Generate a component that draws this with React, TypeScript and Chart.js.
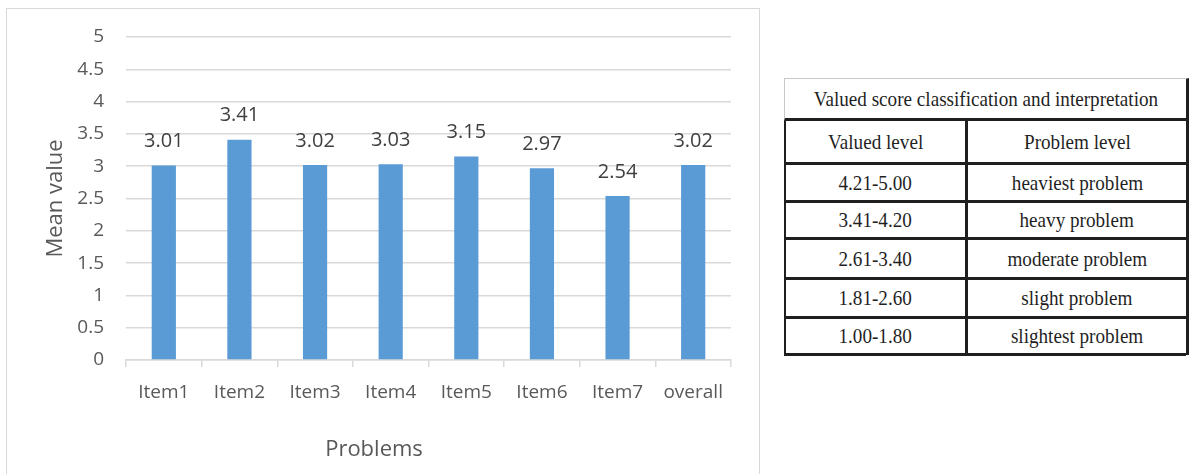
import React, { useEffect, useRef } from "react";
import { Chart, registerables } from "chart.js";

Chart.register(...registerables);

const categories = ["Item1", "Item2", "Item3", "Item4", "Item5", "Item6", "Item7", "overall"];
const meanValues = [3.01, 3.41, 3.02, 3.03, 3.15, 2.97, 2.54, 3.02];
const yMin = 0;
const yMax = 5;
const yStep = 0.5;
const xAxisTitle = "Problems";
const yAxisTitle = "Mean value";

const tableTitle = "Valued score classification and interpretation";
const tableHeaders = ["Valued level", "Problem level"];
const valuedLevels = ["4.21-5.00", "3.41-4.20", "2.61-3.40", "1.81-2.60", "1.00-1.80"];
const problemLevels = ["heaviest problem", "heavy problem", "moderate problem", "slight problem", "slightest problem"];

const FONT = '"Open Sans", "DejaVu Sans", sans-serif';

const dataLabelPlugin = {
  id: "barValueLabels",
  afterDatasetsDraw(chart: any) {
    const ctx = chart.ctx;
    const meta = chart.getDatasetMeta(0);
    ctx.save();
    ctx.font = `20px ${FONT}`;
    ctx.fillStyle = "#404040";
    ctx.textAlign = "center";
    ctx.textBaseline = "middle";
    meta.data.forEach((el: any, i: number) => {
      ctx.fillText(meanValues[i].toFixed(2), el.x, el.y - 24);
    });
    ctx.restore();
  },
};

const xTitlePlugin = {
  id: "xAxisTitleText",
  afterDraw(chart: any) {
    const ctx = chart.ctx;
    ctx.save();
    ctx.font = `22px ${FONT}`;
    ctx.fillStyle = "#595959";
    ctx.textAlign = "center";
    ctx.textBaseline = "middle";
    ctx.fillText(xAxisTitle, chart.width / 2 - 9, chart.height - 24);
    ctx.restore();
  },
};

function BarChart() {
  const ref = useRef<HTMLCanvasElement | null>(null);
  useEffect(() => {
    if (!ref.current) return;
    const chart = new Chart(ref.current, {
      type: "bar",
      data: {
        labels: categories,
        datasets: [
          {
            data: meanValues,
            backgroundColor: "#5B9BD5",
            borderWidth: 0,
            categoryPercentage: 1,
            barPercentage: 0.32,
          },
        ],
      },
      options: {
        responsive: false,
        devicePixelRatio: 1,
        animation: false,
        events: [],
        layout: { padding: { left: 36, top: 28, right: 28, bottom: 11 } },
        plugins: {
          legend: { display: false },
          tooltip: { enabled: false },
        },
        scales: {
          x: {
            offset: true,
            grid: {
              display: true,
              drawOnChartArea: false,
              drawTicks: true,
              tickLength: 7,
              color: "#d9d9d9",
              lineWidth: 1.5,
              offset: true,
            },
            border: { display: true, color: "#d9d9d9", width: 1.5 },
            ticks: {
              color: "#595959",
              font: { family: FONT, size: 19 },
              padding: 14,
              maxRotation: 0,
              autoSkip: false,
            },
            afterFit(scale: any) {
              scale.height = 103;
            },
          },
          y: {
            min: yMin,
            max: yMax,
            grid: {
              color: "#d9d9d9",
              lineWidth: 1.5,
              drawTicks: false,
            },
            border: { display: false },
            ticks: {
              stepSize: yStep,
              color: "#595959",
              font: { family: FONT, size: 19 },
              padding: 22,
              callback: (v: any) => String(Number(v)),
            },
            title: {
              display: true,
              text: yAxisTitle,
              color: "#595959",
              font: { family: FONT, size: 22 },
              padding: { top: 0, bottom: 0 },
            },
            afterFit(scale: any) {
              scale.width = 83;
              scale.paddingTop = 0;
              scale.paddingBottom = 0;
            },
          },
        },
      },
      plugins: [dataLabelPlugin, xTitlePlugin],
    });
    return () => chart.destroy();
  }, []);

  return (
    <div
      style={{
        position: "absolute",
        left: 6,
        top: 8,
        width: 752,
        height: 466,
        borderTop: "1px solid #d9d9d9",
        borderLeft: "1px solid #d9d9d9",
        borderRight: "1px solid #d9d9d9",
        background: "#fff",
      }}
    >
      <canvas ref={ref} width={752} height={465} style={{ display: "block", width: 752, height: 465 }} />
    </div>
  );
}

const rowHeights = [42, 44, 38, 37, 40, 39, 37];
const DARK = "3px solid #1f1f1f";

function Cell({ text, left, width, top, height, borderLeft }: any) {
  return (
    <div
      style={{
        position: "absolute",
        left,
        top,
        width,
        height,
        boxSizing: "border-box",
        borderBottom: DARK,
        borderLeft: borderLeft,
        display: "flex",
        alignItems: "center",
        justifyContent: "center",
        overflow: "visible",
        whiteSpace: "nowrap",
      }}
    >
      <span
        style={{
          display: "inline-block",
          transform: "scaleX(0.87)",
          fontFamily: '"Liberation Serif", "DejaVu Serif", serif',
          fontSize: 22,
          color: "#1f1f1f",
          lineHeight: 1,
        }}
      >
        {text}
      </span>
    </div>
  );
}

function ScoreTable() {
  const tableWidth = 405;
  const leftColWidth = 181;
  const tops: number[] = [];
  let acc = 0;
  rowHeights.forEach((h) => {
    tops.push(acc);
    acc += h;
  });
  const rows = [tableHeaders, ...valuedLevels.map((v, i) => [v, problemLevels[i]])];
  return (
    <div
      style={{
        position: "absolute",
        left: 784,
        top: 78,
        width: tableWidth,
        height: acc,
        boxSizing: "border-box",
        borderTop: "1px solid #c8c8c8",
        borderRight: DARK,
        background: "#fff",
      }}
    >
      <Cell text={tableTitle} left={0} width={tableWidth - 3} top={0} height={rowHeights[0]} borderLeft="1px solid #c8c8c8" />
      {rows.map((r, i) => (
        <React.Fragment key={i}>
          <Cell text={r[0]} left={0} width={leftColWidth} top={tops[i + 1]} height={rowHeights[i + 1]} borderLeft="2px solid #1f1f1f" />
          <Cell
            text={r[1]}
            left={leftColWidth}
            width={tableWidth - 3 - leftColWidth}
            top={tops[i + 1]}
            height={rowHeights[i + 1]}
            borderLeft={DARK}
          />
        </React.Fragment>
      ))}
    </div>
  );
}

export default function App() {
  return (
    <div style={{ position: "absolute", left: 0, top: 0, width: 1192, height: 474, overflow: "hidden", background: "#fff" }}>
      <BarChart />
      <ScoreTable />
    </div>
  );
}
